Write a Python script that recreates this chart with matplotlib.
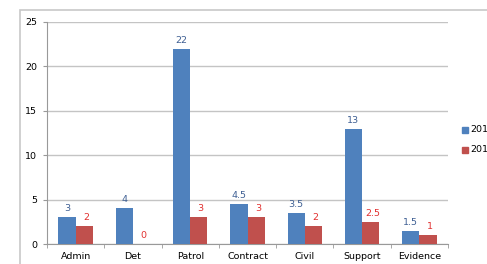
import numpy as np
import matplotlib.pyplot as plt
from matplotlib.patches import Rectangle

categories = ['Admin', 'Det', 'Patrol', 'Contract', 'Civil', 'Support', 'Evidence']
series_a = [3, 4, 22, 4.5, 3.5, 13, 1.5]
series_b = [2, 0, 3, 3, 2, 2.5, 1]
labels_a = ['3', '4', '22', '4.5', '3.5', '13', '1.5']
labels_b = ['2', '0', '3', '3', '2', '2.5', '1']
legend_names = ['201', '201']  # cut off in the screenshot

W, H = 487, 264
fig = plt.figure(figsize=(W / 100, H / 100), dpi=100)

# chart frame (screenshot crop)
fig.patches.append(Rectangle((20 / W, -0.1), 1.2, 1 - 10 / H + 0.1, transform=fig.transFigure,
                             fill=False, edgecolor='#c8c8c8', linewidth=1.2))

ax = fig.add_axes([47 / W, 20 / H, (448 - 47) / W, (242 - 20) / H])

x = np.arange(len(categories))
w = 0.3
blue = '#4f81bd'
red = '#c0504d'
ax.bar(x - w / 2, series_a, w, color=blue, zorder=3)
ax.bar(x + w / 2, series_b, w, color=red, zorder=3)

for i in range(len(categories)):
    ax.text(x[i] - w / 2, series_a[i] + 0.45, labels_a[i], ha='center', va='bottom',
            fontsize=6.8, color='#3e5f93')
    ax.text(x[i] + w / 2 + 0.03, series_b[i] + 0.45, labels_b[i], ha='center', va='bottom',
            fontsize=6.8, color='#e2302f')

ax.set_xlim(-0.5, len(categories) - 0.5)
ax.set_ylim(0, 25)
ax.set_yticks([0, 5, 10, 15, 20, 25])
ax.set_xticks(x)
ax.set_xticklabels(categories)
ax.set_xticks(np.arange(-0.5, len(categories)), minor=True)
ax.tick_params(axis='x', which='major', length=0, labelsize=6.8, pad=6)
ax.tick_params(axis='x', which='minor', length=3, color='#999999')
ax.tick_params(axis='y', labelsize=6.8, length=3, color='#999999', pad=4)
ax.yaxis.grid(True, color='#c4c4c4', linewidth=1, zorder=0)
for s in ['top', 'right']:
    ax.spines[s].set_visible(False)
ax.spines['left'].set_color('#999999')
ax.spines['bottom'].set_color('#999999')

# legend
for yy, c, name in [(130, blue, legend_names[0]), (150, red, legend_names[1])]:
    fig.patches.append(Rectangle((462 / W, 1 - (yy + 3) / H), 6 / W, 6 / H,
                                 transform=fig.transFigure, color=c))
    fig.text(470 / W, 1 - yy / H, name, fontsize=6.8, va='center', ha='left')

fig.savefig('out.png', dpi=100)
